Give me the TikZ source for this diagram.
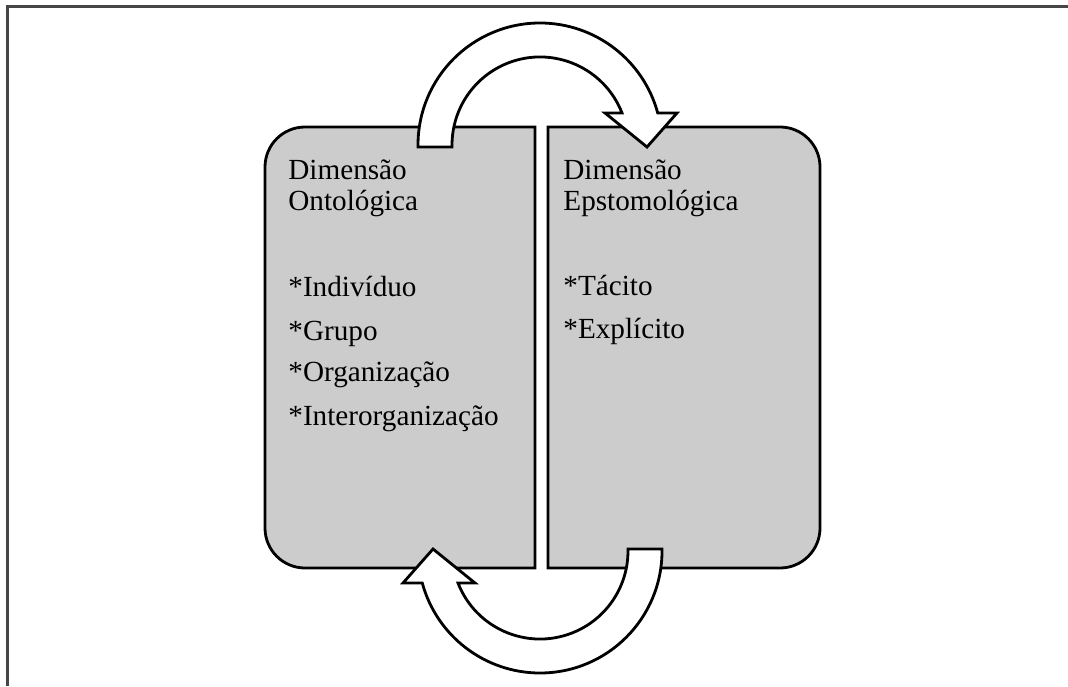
\documentclass[tikz,border=0pt]{standalone}
\usepackage{fontspec}
\setmainfont{Liberation Serif}
\usetikzlibrary{positioning}
\definecolor{panelgray}{RGB}{204,204,204}
\definecolor{framegray}{RGB}{70,70,70}

\tikzset{
    bentarrow/.pic={
        \draw[arrowshape]
            (-122,-2) -- (-122,0) arc[start angle=180, end angle=15.2, radius=122]
            -- (137,32) -- (107,-2) -- (65,32) -- (82,32)
            arc[start angle=21.3, end angle=180, radius=88]
            -- (-88,-2) -- cycle;
    }
}

\begin{document}
\begin{tikzpicture}[
    x=0.5pt, y=0.5pt,
    every node/.style={font=\fontsize{14.6}{17}\selectfont},
    panel/.style={
        draw,
        fill=panelgray,
        line width=1.4pt,
        rounded corners=20pt
    },
    arrowshape/.style={
        draw,
        fill=white,
        line width=1.4pt,
        line join=miter
    },
    frame/.style={
        draw=framegray,
        line width=1.5pt
    },
    txt/.style={
        anchor=base west,
        inner sep=0pt
    }
]

\useasboundingbox (0,0) rectangle (1068,686);

\draw[frame] (7,0) -- (7,679) -- (1068,679);

% left panel, round on the left side
\draw[panel] (400,559) -- (265,559) -- (265,118) -- (400,118)
    [sharp corners] -- (535,118) -- (535,559) -- cycle;
% right panel, round on the right side
\draw[panel] (680,118) -- (820,118) -- (820,559) -- (680,559)
    [sharp corners] -- (548,559) -- (548,118) -- cycle;

\node[txt] (onthead1) at (288,506) {Dimensão};
\node[txt] (onthead2) at (288,475) {Ontológica};
\node[txt] (ind) at (288,390) {*Indivíduo};
\node[txt] (grp) at (288,346) {*Grupo};
\node[txt] (org) at (288,305) {*Organização};
\node[txt] (inter) at (288,261) {*Interorganização};

\node[txt] (epihead1) at (563,506) {Dimensão};
\node[txt] (epihead2) at (563,475) {Epstomológica};
\node[txt] (tac) at (563,391) {*Tácito};
\node[txt] (expl) at (563,348) {*Explícito};

\pic (toparrow) at (540,541) {bentarrow};
\pic[rotate=180] (botarrow) at (540,135) {bentarrow};

\end{tikzpicture}
\end{document}
